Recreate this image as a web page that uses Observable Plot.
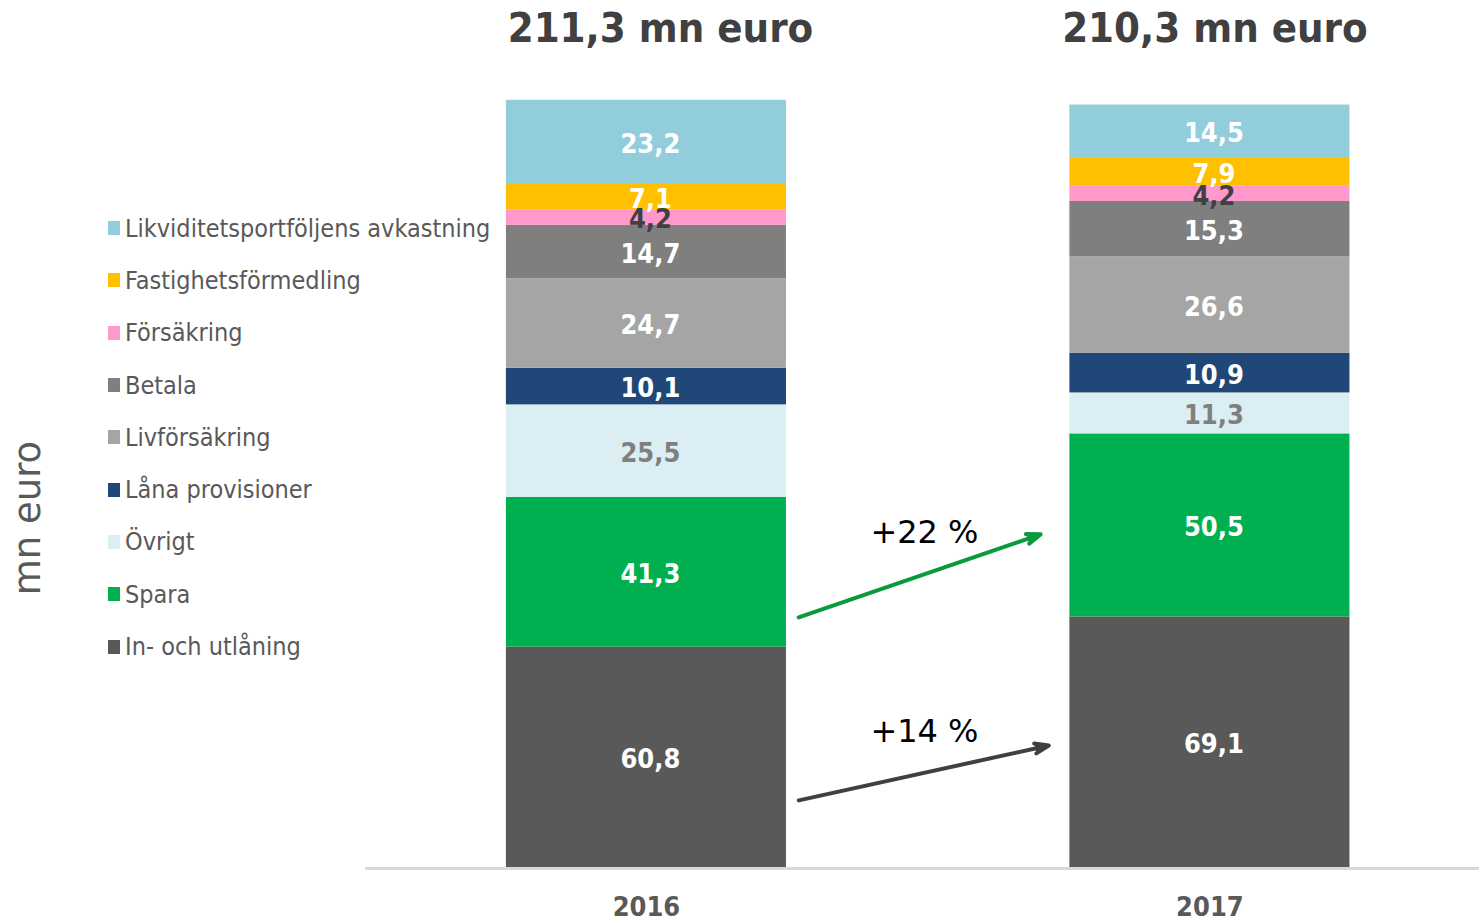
<!DOCTYPE html>
<html><head><meta charset="utf-8">
<script src="https://cdn.jsdelivr.net/npm/d3@7"></script>
<script src="https://cdn.jsdelivr.net/npm/@observablehq/plot@0.6"></script>
<style>
body{margin:0;background:#fff;}
#wrap{position:relative;width:1479px;height:922px;overflow:hidden}
#legend{position:absolute;left:108px;top:202px;font-family:"DejaVu Sans Condensed","DejaVu Sans",sans-serif;font-stretch:condensed;font-size:25px;color:#595959;}
.item{height:52.3px;display:flex;align-items:center;white-space:nowrap}
.sw{width:12px;height:14px;margin-right:5px;flex:none}
#ylab{position:absolute;left:27px;top:518px;transform:translate(-50%,-50%) rotate(-90deg);font-family:"DejaVu Sans",sans-serif;font-size:37px;color:#595959;white-space:nowrap}
</style></head><body><div id="wrap"></div>
<script>
const years = ["2016", "2017"];
const categories = ["In- och utlåning", "Spara", "Övrigt", "Låna provisioner", "Livförsäkring", "Betala", "Försäkring", "Fastighetsförmedling", "Likviditetsportföljens avkastning"];
const values2016 = [60.8, 41.3, 25.5, 10.1, 24.7, 14.7, 4.2, 7.1, 23.2];
const values2017 = [69.1, 50.5, 11.3, 10.9, 26.6, 15.3, 4.2, 7.9, 14.5];
const totals = ["211,3 mn euro", "210,3 mn euro"];
const colors = ["#595959", "#00b050", "#daeef3", "#1f4778", "#a5a5a5", "#7f7f7f", "#ff99cc", "#ffc000", "#92cddc"];
const labelColors = ["#ffffff", "#ffffff", "#7f7f7f", "#ffffff", "#ffffff", "#ffffff", "#404040", "#ffffff", "#ffffff"];
const arrowLabels = ["+22 %", "+14 %"];
const arrowFrom = [54.6, 9.3];
const arrowTo = [107.9, 43.4];
const arrowColors = ["#0a9a3c", "#404040"];

const COND = '"DejaVu Sans Condensed", "DejaVu Sans", sans-serif';
const fmt = v => v.toFixed(1).replace(".", ",");
const labelColorOf = c => labelColors[categories.indexOf(c)];

const table = years.flatMap((yr, j) => categories.map((c, i) => ({year: yr, category: c, value: (j ? values2017 : values2016)[i]})));
const arrows = arrowLabels.map((label, i) => ({label, from: years[0], to: years[1], y1: arrowFrom[i], y2: arrowTo[i], mid: (arrowFrom[i] + arrowTo[i]) / 2}));
const titles = years.map((y, i) => ({year: y, text: totals[i]}));

const labelMark = (col) => Plot.text(table, Plot.stackY({
  x: "year", y: "value", z: "category",
  text: d => labelColorOf(d.category) === col ? fmt(d.value) : null,
  fill: col, fontSize: 27, fontWeight: "bold", fontFamily: COND, dx: 4, dy: 2
}));

const titleMark = (i, dx) => Plot.text(titles.slice(i, i + 1), {x: "year", text: "text", frameAnchor: "top", lineAnchor: "middle", dy: 13, dx, fontSize: 41.5, fontWeight: "bold", fill: "#404040", fontFamily: COND});

const plot = Plot.plot({
  width: 1479, height: 922,
  marginLeft: 365, marginRight: 0, marginTop: 15, marginBottom: 55,
  style: {background: "#fff", fontFamily: COND, overflow: "visible"},
  x: {domain: years, type: "band", paddingInner: 0.503, paddingOuter: 0.24, align: 0.521, round: false, label: null},
  y: {domain: [0, 235], axis: null},
  color: {domain: categories, range: colors},
  marks: [
    Plot.barY(table, {x: "year", y: "value", fill: "category", z: "category"}),
    Plot.ruleY([0], {stroke: "#d9d9d9", strokeWidth: 3, dy: 1}),
    Plot.axisX({tickSize: 0, tickPadding: 29, fontSize: 27, fontWeight: "bold", color: "#595959", label: null}),
    labelMark("#ffffff"),
    labelMark("#7f7f7f"),
    labelMark("#404040"),
    titleMark(0, 14),
    titleMark(1, 5),
    Plot.arrow(arrows.slice(0, 1), {x1: "from", x2: "to", y1: "y1", y2: "y2", stroke: arrowColors[0], strokeWidth: 4, headAngle: 40, headLength: 5.5, insetStart: 161, insetEnd: 179}),
    Plot.arrow(arrows.slice(1, 2), {x1: "from", x2: "to", y1: "y1", y2: "y2", stroke: arrowColors[1], strokeWidth: 4, headAngle: 40, headLength: 5.5, insetStart: 156, insetEnd: 165}),
    Plot.text(arrows, {x: "from", y: "mid", text: "label", dx: 278, dy: -40, fontSize: 32, fill: "#000", fontFamily: '"DejaVu Sans", sans-serif'})
  ]
});

// filled triangular arrowheads, as in the reference
plot.querySelectorAll('g[aria-label="arrow"]').forEach(g => {
  const s = g.getAttribute("stroke");
  g.setAttribute("fill", s);
  g.querySelectorAll("path").forEach(p => p.setAttribute("fill", p.getAttribute("stroke") || s));
});

const wrap = document.getElementById("wrap");
wrap.appendChild(plot);

const legend = document.createElement("div");
legend.id = "legend";
categories.slice().reverse().forEach(c => {
  const it = document.createElement("div");
  it.className = "item";
  const sw = document.createElement("span");
  sw.className = "sw";
  sw.style.background = colors[categories.indexOf(c)];
  const tx = document.createElement("span");
  tx.textContent = c;
  it.appendChild(sw); it.appendChild(tx);
  legend.appendChild(it);
});
wrap.appendChild(legend);

const ylab = document.createElement("div");
ylab.id = "ylab";
ylab.textContent = "mn euro";
wrap.appendChild(ylab);
</script></body></html>
